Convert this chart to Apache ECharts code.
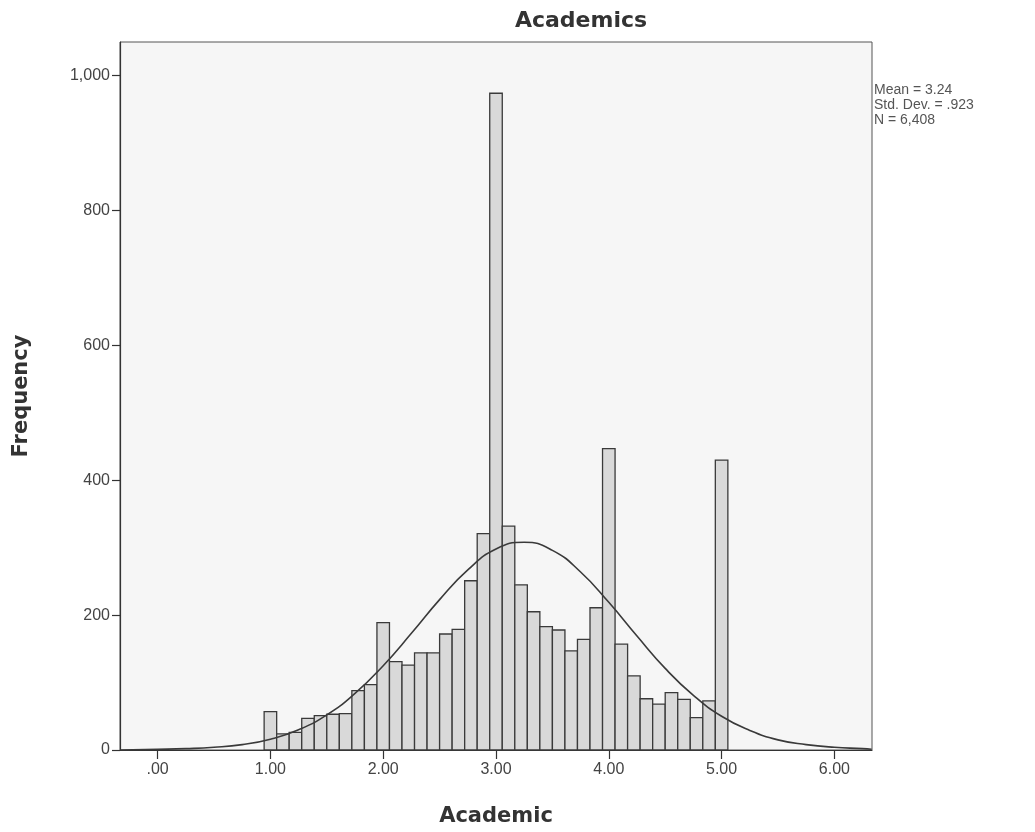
<!DOCTYPE html>
<html>
<head>
<meta charset="utf-8">
<script src="https://cdn.jsdelivr.net/npm/echarts@6/dist/echarts.min.js"></script>
<style>
html,body{margin:0;padding:0;background:#fff;}
#chart{width:1035px;height:832px;}
</style>
</head>
<body>
<div id="chart"></div>
<script>
// Histogram bins: start at 1.00, width 1/9
const binStart = 1;
const binWidth = 1 / 9;
const frequencies = [57, 24, 26, 47, 51, 53, 54, 88, 97, 189, 131, 126, 144, 144, 172, 179, 251, 321,
  974, 332, 245, 205, 183, 178, 147, 164, 211, 447, 157, 110, 76, 68, 85, 75, 48, 73, 430];
// Normal curve points
const curveX = [-0.33, 0, 0.25, 0.5, 0.75, 1, 1.25, 1.5, 1.75, 2, 2.25, 2.5, 2.75, 3, 3.25, 3.5, 3.75, 4,
  4.25, 4.5, 4.75, 5, 5.25, 5.5, 5.75, 6, 6.25, 6.33];
const curveY = [0, 1, 2, 4, 8, 16, 30, 52, 84, 125, 173, 223, 267, 298, 308, 296, 264, 219,
  169, 121, 81, 50, 29, 15, 8, 4, 2, 1];
const xTicks = [0, 1, 2, 3, 4, 5, 6];
const yTicks = [0, 200, 400, 600, 800, 1000];
const statsLines = ['Mean = 3.24', 'Std. Dev. = .923', 'N = 6,408'];

const barData = frequencies.map((f, i) => [binStart + i * binWidth, f]);
const curveData = curveX.map((x, i) => [x, curveY[i]]);

const chart = echarts.init(document.getElementById('chart'));
const FONT = '"Liberation Sans", Arial, sans-serif';
const BOLD = '"DejaVu Sans", "Liberation Sans", sans-serif';
chart.setOption({
  backgroundColor: '#ffffff',
  animation: false,
  title: {
    text: 'Academics',
    left: 576, top: 5, textAlign: 'center',
    textStyle: {fontFamily: BOLD, fontSize: 22, fontWeight: 'bold', color: '#333'}
  },
  grid: {
    left: 120, right: 163, top: 42, bottom: 81,
    show: true, backgroundColor: '#f6f6f6', borderColor: '#555', borderWidth: 1
  },
  xAxis: {
    type: 'value', min: -1 / 3, max: 19 / 3,
    name: 'Academic', nameLocation: 'middle', nameGap: 56,
    nameTextStyle: {fontFamily: BOLD, fontSize: 21, fontWeight: 'bold', color: '#333'},
    axisLine: {show: true, onZero: false, lineStyle: {color: '#333', width: 1.2}},
    axisTick: {show: true, customValues: xTicks, length: 9, lineStyle: {color: '#333', width: 1.2}},
    axisLabel: {
      customValues: xTicks, margin: 12,
      fontFamily: FONT, fontSize: 16, color: '#444',
      formatter: v => v === 0 ? '.00' : v.toFixed(2)
    },
    splitLine: {show: false}
  },
  yAxis: {
    type: 'value', min: 0, max: 1050,
    name: 'Frequency', nameLocation: 'middle', nameGap: 88, nameRotate: 90,
    nameTextStyle: {fontFamily: BOLD, fontSize: 21, fontWeight: 'bold', color: '#333'},
    axisLine: {show: true, onZero: false, lineStyle: {color: '#333', width: 1.2}},
    axisTick: {show: true, customValues: yTicks, length: 8, lineStyle: {color: '#333', width: 1.2}},
    axisLabel: {
      customValues: yTicks, margin: 10,
      fontFamily: FONT, fontSize: 16, color: '#444',
      formatter: v => v.toLocaleString('en-US')
    },
    splitLine: {show: false}
  },
  graphic: statsLines.map((t, i) => ({
    type: 'text', left: 874, top: 83 + i * 15,
    style: {text: t, font: '14px "Liberation Sans", Arial, sans-serif', fill: '#555'}
  })),
  series: [
    {
      type: 'custom',
      data: barData,
      encode: {x: 0, y: 1},
      renderItem: function (params, api) {
        const x = api.value(0), y = api.value(1);
        const p0 = api.coord([x - binWidth / 2, 0]);
        const p1 = api.coord([x + binWidth / 2, y]);
        return {
          type: 'rect',
          shape: {x: p0[0], y: p1[1], width: p1[0] - p0[0], height: p0[1] - p1[1]},
          style: {fill: '#d9d9d9', stroke: '#3a3a3a', lineWidth: 1.3}
        };
      },
      z: 2
    },
    {
      type: 'line',
      data: curveData,
      smooth: true,
      showSymbol: false,
      lineStyle: {color: '#3a3a3a', width: 1.6},
      z: 3
    }
  ]
});
</script>
</body>
</html>
